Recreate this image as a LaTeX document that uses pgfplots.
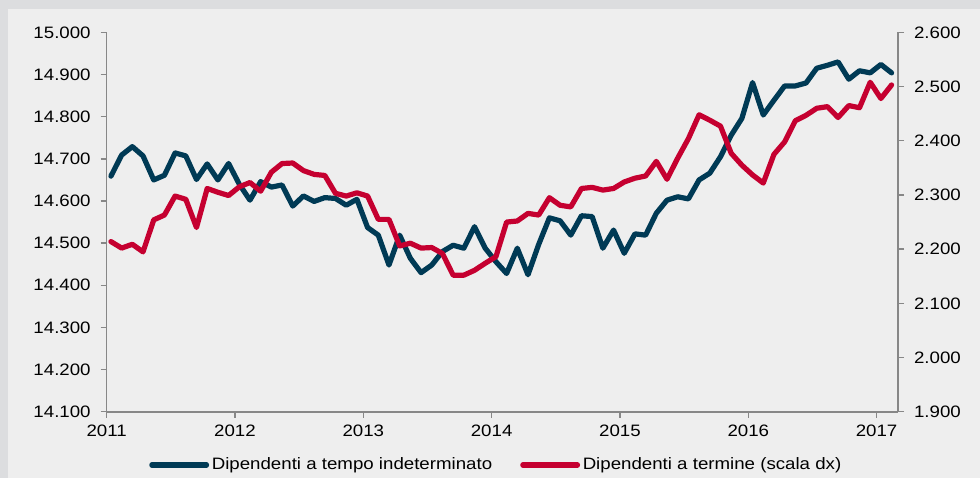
\documentclass[border=0pt]{standalone}
\usepackage{pgfplots}
\pgfplotsset{compat=1.18}
\usepackage{pgfplotstable}
\usepackage{fontspec}
\setmainfont[FakeStretch=1.13]{Liberation Sans}
\definecolor{bordergray}{HTML}{DCDDDF}
\definecolor{panel}{HTML}{EEEEEE}
\definecolor{navy}{HTML}{003A55}
\definecolor{crim}{HTML}{C50030}
\definecolor{axgray}{HTML}{878787}
\newcommand{\lblfont}{\fontsize{12.4pt}{14pt}\selectfont}

\pgfplotstableread{
b r
14659 2214
14709 2202
14729 2209
14707 2195
14650 2254
14661 2263
14714 2298
14707 2292
14651 2240
14688 2312
14650 2305
14689 2299
14640 2315
14602 2323
14646 2307
14633 2342
14638 2358
14588 2359
14612 2345
14599 2338
14608 2336
14606 2303
14590 2298
14604 2304
14537 2298
14519 2255
14448 2255
14519 2206
14464 2211
14430 2202
14448 2203
14480 2192
14495 2152
14488 2152
14539 2161
14488 2174
14456 2186
14428 2250
14488 2252
14425 2266
14497 2263
14560 2295
14553 2281
14519 2278
14565 2312
14563 2314
14488 2309
14531 2312
14476 2324
14522 2331
14519 2335
14571 2362
14602 2329
14610 2368
14605 2404
14650 2448
14666 2438
14705 2427
14756 2377
14796 2355
14881 2337
14804 2322
14839 2375
14873 2398
14873 2437
14880 2447
14915 2460
14922 2463
14930 2443
14889 2465
14909 2461
14904 2508
14924 2478
14904 2503
}\datatable

\begin{document}
\begin{tikzpicture}
\useasboundingbox (0,0) rectangle (735pt,358.5pt);
\fill[bordergray] (0,0) rectangle (735pt,358.5pt);
\fill[panel] (6pt,0) rectangle (735pt,351.4pt);
\pgfplotsset{
  common/.style={
    width=593.5pt, height=284.5pt, scale only axis,
    at={(80pt,49.7pt)}, anchor=south west,
    xmin=0, xmax=74,
    axis line style={-, draw=axgray, line width=1.2pt},
    tick style={draw=axgray, line width=1pt},
    tick align=outside,
    major tick length=4.5pt,
    scaled y ticks=false,
    ticklabel style={font=\lblfont, text=black},
    /pgf/number format/.cd, fixed, 1000 sep={.}, assume math mode=true,
  }
}
\begin{axis}[common,
  axis x line*=bottom, axis y line*=left,
  ymin=14100, ymax=15000,
  ytick={14100,14200,14300,14400,14500,14600,14700,14800,14900,15000},
  xtick={0,12,24,36,48,60,72},
  xticklabels={2011,2012,2013,2014,2015,2016,2017},
  yticklabel style={xshift=-4pt},
  xticklabel style={yshift=-2pt},
]
\addplot[navy, line width=3.9pt, line join=round, line cap=round] table[x expr=\coordindex+0.4, y=b] {\datatable};
\end{axis}
\begin{axis}[common,
  axis x line=none, axis y line*=right,
  ymin=1900, ymax=2600,
  ytick={1900,2000,2100,2200,2300,2400,2500,2600},
  yticklabel style={xshift=4pt},
  legend columns=2,
  legend style={at={(0.4928,-0.1404)}, anchor=center, draw=none, fill=none,
    font=\lblfont, /tikz/every even column/.append style={column sep=19pt},
    inner sep=0pt},
  legend image code/.code={\draw[#1, line width=3.9pt, line cap=round] (0pt,0pt) -- (41pt,0pt);},
]
\addlegendimage{navy}
\addlegendentry{Dipendenti a tempo indeterminato}
\addplot[crim, line width=3.9pt, line join=round, line cap=round] table[x expr=\coordindex+0.4, y=r] {\datatable};
\addlegendentry{Dipendenti a termine (scala dx)}
\end{axis}
\end{tikzpicture}
\end{document}
